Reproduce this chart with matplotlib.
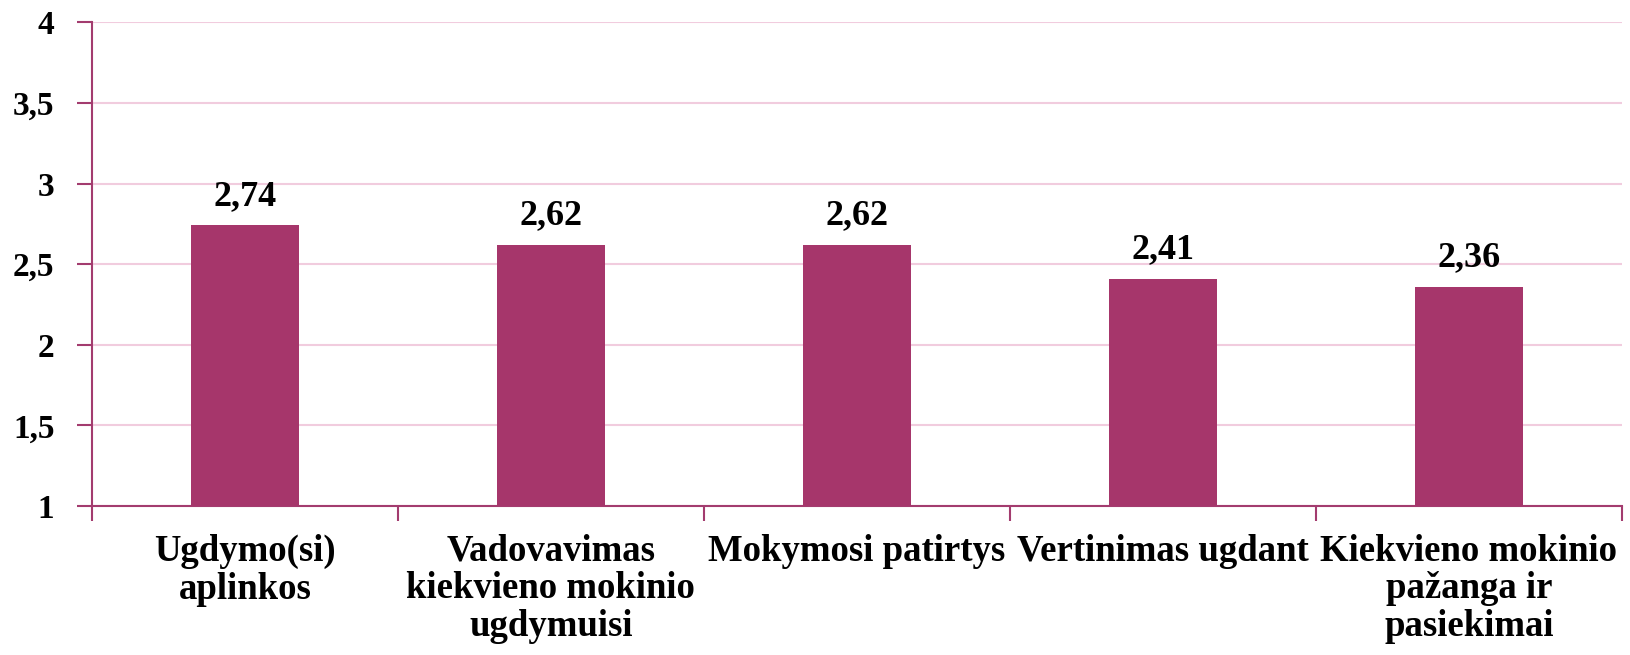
import matplotlib
matplotlib.use('Agg')
import matplotlib.pyplot as plt
from matplotlib.ticker import FuncFormatter

categories = ['Ugdymo(si)\naplinkos',
              'Vadovavimas\nkiekvieno mokinio\nugdymuisi',
              'Mokymosi patirtys',
              'Vertinimas ugdant',
              'Kiekvieno mokinio\npažanga ir\npasiekimai']
values = [2.74, 2.62, 2.62, 2.41, 2.36]
value_labels = ['2,74', '2,62', '2,62', '2,41', '2,36']
yticks = [1, 1.5, 2, 2.5, 3, 3.5, 4]

bar_color = '#A6366B'
axis_color = '#A33C6F'
grid_color = '#F1CCDE'

plt.rcParams['font.family'] = ['Liberation Serif', 'DejaVu Serif']
plt.rcParams['font.weight'] = 'bold'

fig = plt.figure(figsize=(16.3, 6.55), dpi=100)
ax = fig.add_axes([0.0564, 0.2275, 0.9386, 0.7385])

x = list(range(len(categories)))
ax.bar(x, [v - 1 for v in values], bottom=1, width=0.353, color=bar_color, zorder=3)

for xi, v, lab in zip(x, values, value_labels):
    ax.annotate(lab, (xi, v), xytext=(0, 9), textcoords='offset points',
                ha='center', va='bottom', fontsize=26, fontweight='bold')

ax.set_xlim(-0.5, len(categories) - 0.5)
ax.set_ylim(1, 4)
ax.set_yticks(yticks)
ax.yaxis.set_major_formatter(FuncFormatter(lambda v, p: ('%g' % v).replace('.', ',')))
ax.yaxis.grid(True, color=grid_color, linewidth=1.5, zorder=0)
ax.set_axisbelow(True)

# category boundaries as ticks, labels centred under bars
ax.set_xticks([i - 0.5 for i in range(len(categories) + 1)])
ax.set_xticklabels([])
ax.set_xticks(x, minor=True)
ax.set_xticklabels(categories, minor=True, fontsize=26.5, fontweight='bold',
                   linespacing=1.1, va='top')
ax.tick_params(axis='x', which='minor', length=0, pad=20)
ax.tick_params(axis='x', which='major', length=11, width=1.5, color=axis_color)
ax.tick_params(axis='y', length=11, width=1.5, color=axis_color, labelsize=24, pad=16)

for s in ['top', 'right']:
    ax.spines[s].set_visible(False)
for s in ['left', 'bottom']:
    ax.spines[s].set_color(axis_color)
    ax.spines[s].set_linewidth(1.5)

fig.savefig('out.png', dpi=100)
